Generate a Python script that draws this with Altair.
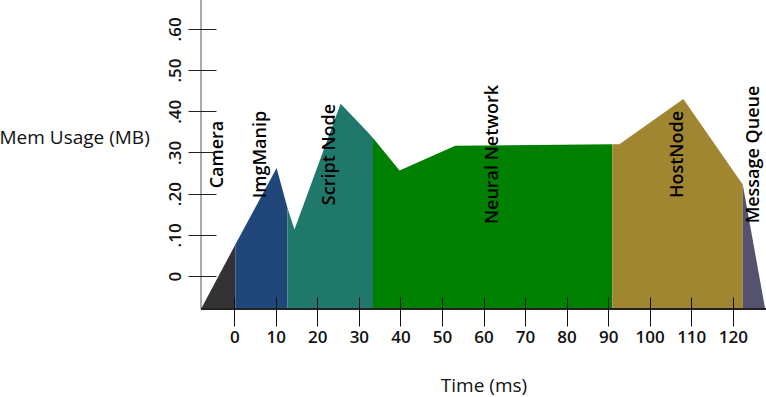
import altair as alt
import pandas as pd

# ---- data ----
XMIN, XMAX = -8, 128
YMIN, YMAX = -0.08, 0.67

segments = ["Camera", "ImgManip", "Script Node", "Neural Network", "HostNode", "Message Queue"]
colors = ["#333333", "#21467a", "#20786a", "#008000", "#a08630", "#53536f"]

seg_x = [
    [-8, 0.3],
    [0.3, 10.2, 12.8],
    [12.8, 14.5, 25.6, 32.0, 33.4],
    [33.4, 39.8, 53.2, 91.0],
    [91.0, 92.7, 108.1, 122.4],
    [122.4, 127.8],
]
seg_y = [
    [-0.08, 0.077],
    [0.077, 0.262, 0.166],
    [0.166, 0.113, 0.418, 0.351, 0.335],
    [0.335, 0.256, 0.316, 0.320],
    [0.320, 0.320, 0.430, 0.222],
    [0.222, -0.08],
]

x_ticks = list(range(0, 121, 10))
y_ticks = [0, 0.1, 0.2, 0.3, 0.4, 0.5, 0.6]

rows = []
for name, xs, ys in zip(segments, seg_x, seg_y):
    for x, y in zip(xs, ys):
        rows.append({"seg": name, "t": x, "mem": y, "base": YMIN})
df = pd.DataFrame(rows)

labels = pd.DataFrame({
    "seg": segments,
    "t": [(xs[0] + xs[-1]) / 2 for xs in seg_x],
    "mem": [(YMIN + YMAX) / 2] * len(segments),
})

xscale = alt.Scale(domain=[XMIN, XMAX], nice=False, zero=False)
yscale = alt.Scale(domain=[YMIN, YMAX], nice=False, zero=False)
cscale = alt.Scale(domain=segments, range=colors)

FONT = "Open Sans"

x_axis = alt.Axis(
    values=x_ticks, title="Time (ms)", offset=-12, tickSize=29, tickColor="#111",
    tickWidth=1, domain=False, grid=False, labelFont=FONT, labelFontSize=17,
    labelFontWeight=600, labelColor="#111", labelPadding=3,
    titleFont=FONT, titleFontSize=19, titleFontWeight="normal", titleColor="#111",
    titlePadding=31, zindex=1,
)
y_axis = alt.Axis(
    values=y_ticks, title="Mem Usage (MB)", offset=-15, tickSize=28, tickColor="#222",
    tickWidth=1, domain=False, grid=False, labelFont=FONT, labelFontSize=17,
    labelFontWeight=600, labelColor="#111", labelAngle=270, labelAlign="center",
    labelBaseline="middle", labelPadding=13,
    labelExpr="datum.value == 0 ? '0' : replace(format(datum.value, '.2f'), '0.', '.')",
    titleFont=FONT, titleFontSize=19, titleFontWeight="normal", titleColor="#111",
    titleAngle=0, titleAlign="left", titleBaseline="middle", titleX=-217, titleY=137,
    zindex=1,
)

areas = alt.Chart(df).mark_area(opacity=1, interpolate="linear").encode(
    x=alt.X("t:Q", scale=xscale, axis=x_axis),
    y=alt.Y("mem:Q", scale=yscale, axis=y_axis),
    y2="base:Q",
    color=alt.Color("seg:N", scale=cscale, legend=None),
    detail="seg:N",
)

text = alt.Chart(labels).mark_text(
    angle=270, align="center", baseline="middle", font=FONT, fontSize=18,
    fontWeight=600, color="#000",
).encode(
    x=alt.X("t:Q", scale=xscale),
    y=alt.Y("mem:Q", scale=yscale),
    text="seg:N",
)

yline = alt.Chart(pd.DataFrame({"x": [XMIN], "y": [YMIN], "y2": [YMAX]})).mark_rule(
    color="#aaaaaa", strokeWidth=2
).encode(x=alt.X("x:Q", scale=xscale), y=alt.Y("y:Q", scale=yscale), y2="y2:Q")

xline = alt.Chart(pd.DataFrame({"x": [XMIN], "x2": [XMAX], "y": [YMIN]})).mark_rule(
    color="#222222", strokeWidth=2
).encode(x=alt.X("x:Q", scale=xscale), x2="x2:Q", y=alt.Y("y:Q", scale=yscale))

chart = alt.layer(yline, areas, xline, text).properties(
    width=565, height=309,
    autosize=alt.AutoSizeParams(type="none"),
    padding={"left": 201, "top": 0, "right": 0, "bottom": 88},
).configure_view(stroke=None)

chart.save("out.html", embed_options={"renderer": "svg", "actions": False})
